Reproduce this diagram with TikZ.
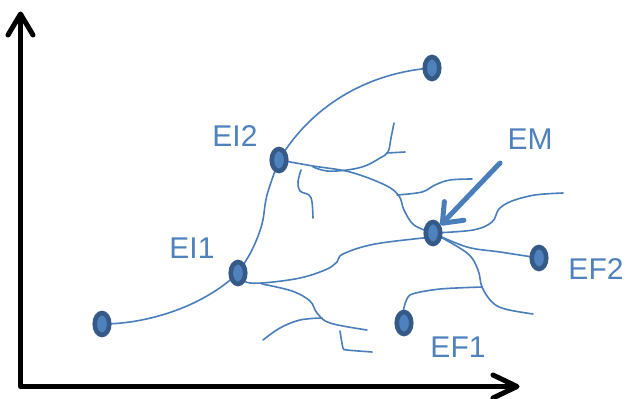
\documentclass[tikz,border=0pt]{standalone}
\usepackage{fontspec}
\newfontfamily\labelfont{Liberation Sans}
\usetikzlibrary{shapes.geometric,arrows.meta,backgrounds}

\definecolor{veinblue}{HTML}{4A7EBB}
\definecolor{siteedge}{HTML}{365A88}
\definecolor{sitefill}{HTML}{4F81BD}
\definecolor{labblue}{HTML}{4F81BD}

\tikzset{
  axisline/.style={line width=5pt, black, line cap=round, line join=round},
  vein/.style={draw=veinblue, line width=1.6pt, line cap=round, line join=round},
  site/.style={ellipse, draw=siteedge, fill=sitefill, line width=4.6pt,
               minimum width=14.5pt, minimum height=22pt, inner sep=0pt},
  lab/.style={text=labblue, font=\labelfont\fontsize{30}{30}\selectfont, inner sep=0pt},
  pointer/.style={draw=veinblue, line width=5pt, line cap=round,
                  -{Straight Barb[length=17pt, width=27pt, round]}},
}

\begin{document}
\begin{tikzpicture}[x=1pt, y=-1pt]
  \useasboundingbox (0,0) rectangle (630,399);

  % axes
  \draw[axisline] (8,35) -- (20.5,14) -- (33,35);
  \draw[axisline] (20.5,15) -- (20.5,386.5) -- (516,386.5);
  \draw[axisline] (493,375) -- (517,386.5) -- (493,398);

  % sites
  \node[site] (n0)  at (102,324) {};
  \node[site] (ei1) at (238,273) {};
  \node[site] (ei2) at (279,160) {};
  \node[site] (top) at (432,68)  {};
  \node[site] (em)  at (433,233) {};
  \node[site] (ef2) at (539,258) {};
  \node[site] (ef1) at (404,323) {};

  % labels
  \node[lab] (lei2) at (235,136.5) {EI2};
  \node[lab] (lei1) at (192,248)   {EI1};
  \node[lab] (lem)  at (530,139)   {EM};
  \node[lab] (lef2) at (596,269)   {EF2};
  \node[lab] (lef1) at (458,347)   {EF1};

  % paths between the sites
  \begin{scope}[on background layer]
    \draw[vein] (n0.center) .. controls (150,324) and (205,305) .. (ei1.center);
    \draw[vein] plot[smooth, tension=0.6] coordinates
      {(ei1.center) (252,250) (262,224) (267,195) (ei2.center)};
    \draw[vein] (ei2.center) .. controls (315,100) and (375,72) .. (top.center);
    \draw[vein] plot[smooth, tension=0.6] coordinates
      {(ei2.center) (313,166) (350,172) (385,185) (399,196)
       (404,210) (414,225) (433,233)};
    \draw[vein] plot[smooth, tension=0.6] coordinates
      {(ei1.center) (250,283) (295,279) (325,270) (337,262) (343,254)
       (375,244) (433,237)};
    \draw[vein] plot[smooth, tension=0.6] coordinates
      {(em.center) (467,247) (500,252) (ef2.center)};

    % side branches
    \draw[vein] plot[smooth, tension=0.6] coordinates
      {(313,167) (327,171) (347,170) (365,166) (380,158) (388,152) (391,138) (394,123)};
    \draw[vein] (387,153) -- (405,152);
    \draw[vein] plot[smooth, tension=0.6] coordinates
      {(301,170) (298,182) (300,191) (309,195) (312,202) (313,218)};
    \draw[vein] plot[smooth, tension=0.6] coordinates
      {(397,195) (422,192) (435,185) (450,180) (472,179)};
    \draw[vein] plot[smooth, tension=0.6] coordinates
      {(em.center) (473,230) (492,222) (499,209) (512,201) (535,195) (563,193)};
    \draw[vein] plot[smooth, tension=0.6] coordinates
      {(em.center) (467,253) (478,270) (482,287) (492,302) (505,309) (533,314)};
    \draw[vein] plot[smooth, tension=0.4] coordinates
      {(482,287) (440,289) (410,295) (403,312) (ef1.center)};
    \draw[vein] plot[smooth, tension=0.6] coordinates
      {(262,284) (292,291) (310,301) (317,313) (330,323) (367,330)};
    \draw[vein] plot[smooth, tension=0.6] coordinates
      {(322,318) (300,320) (280,328) (263,340)};
    \draw[vein] plot[smooth, tension=0.4] coordinates
      {(340,331) (343,348) (347,350) (372,352)};
  \end{scope}

  % pointer to EM
  \coordinate (emtail) at (500,163);
  \draw[pointer] (emtail) -- (em);
\end{tikzpicture}
\end{document}
